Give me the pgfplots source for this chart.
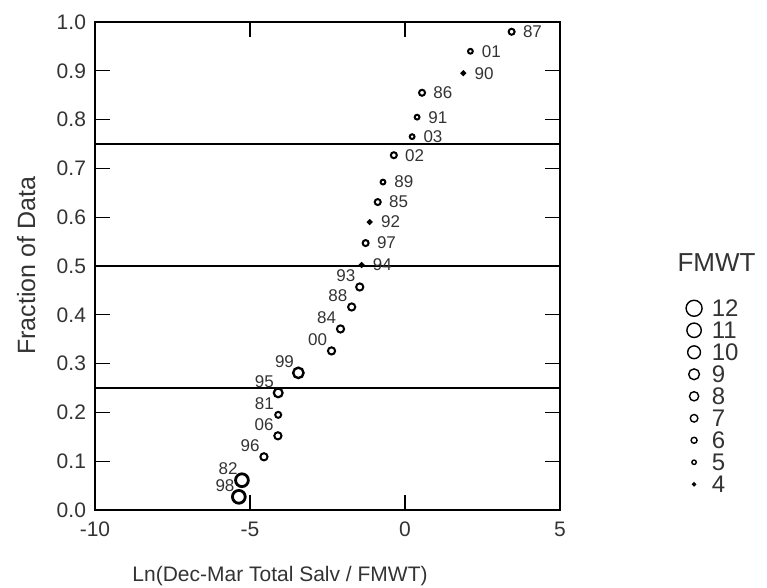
\documentclass[border=0pt]{standalone}
\usepackage{pgfplots}
\pgfplotsset{compat=1.18}
\usepackage{fontspec}
\setmainfont{Liberation Sans}
\definecolor{ink}{gray}{0.2}
\begin{document}
\begin{tikzpicture}
\begin{axis}[
  name=ax, at={(0,0)}, anchor=south west,
  scale only axis, width=232.5pt, height=244pt,
  xmin=-10, xmax=5, ymin=0, ymax=1,
  xtick={-10,-5,0,5},
  ytick={0,0.1,0.2,0.3,0.4,0.5,0.6,0.7,0.8,0.9,1.0},
  yticklabel style={/pgf/number format/fixed, /pgf/number format/fixed zerofill, /pgf/number format/precision=1, xshift=-1pt},
  /pgf/number format/assume math mode=true,
  tick align=inside, major tick length=7.5pt,
  tick style={black, line width=0.6pt},
  axis line style={black, line width=0.8pt},
  tick label style={font=\fontsize{10.5}{12}\selectfont, text=ink},
  xticklabel style={yshift=-2.5pt},
  xlabel={Ln(Dec-Mar Total Salv / FMWT)},
  ylabel={Fraction of Data},
  xlabel style={at={(axis description cs:0.398,0)}, anchor=center, yshift=-33pt, font=\fontsize{10.5}{12}\selectfont, text=ink},
  ylabel style={at={(axis description cs:-0.148,0.5)}, anchor=center, font=\fontsize{12.5}{14}\selectfont, text=ink},
  clip=false,
  legend style={at={(axis description cs:1.2645,0.432)}, anchor=north west, draw=none, fill=none,
    inner sep=0pt, font=\fontsize{12}{13}\selectfont, text=ink, row sep=2.3pt, column sep=3.5pt,
    nodes={inner sep=0pt, text height=8.7pt, text depth=0pt},
    cells={anchor=west}},
  legend cell align=left,
  legend image code/.code={\path (-5pt,0pt) (5pt,0pt); \draw[#1] plot coordinates {(0pt,0pt)};},
]
% reference lines
\addplot[forget plot, black, line width=0.7pt] coordinates {(-10,0.25) (5,0.25)};
\addplot[forget plot, black, line width=0.7pt] coordinates {(-10,0.5) (5,0.5)};
\addplot[forget plot, black, line width=0.7pt] coordinates {(-10,0.75) (5,0.75)};

% markers, grouped by FMWT size class
\addplot[forget plot, only marks, mark=o, mark size=0.9pt, line width=1pt] coordinates {(1.88,0.895) (-1.14,0.590) (-1.40,0.502)};
\addplot[forget plot, only marks, mark=o, mark size=1.2pt, line width=1pt] coordinates {(2.11,0.940) (0.39,0.805) (0.23,0.765) (-0.71,0.672)};
\addplot[forget plot, only marks, mark=o, mark size=1.5pt, line width=1pt] coordinates {(3.44,0.980) (0.55,0.855) (-0.36,0.727) (-0.88,0.631) (-1.27,0.547) (-4.09,0.195)};
\addplot[forget plot, only marks, mark=o, mark size=1.8pt, line width=1pt] coordinates {(-1.46,0.457) (-1.72,0.416) (-2.08,0.371) (-2.37,0.326) (-4.10,0.152) (-4.55,0.109)};
\addplot[forget plot, only marks, mark=o, mark size=2.2pt, line width=1.1pt] coordinates {(-4.09,0.240)};
\addplot[forget plot, only marks, mark=o, mark size=2.6pt, line width=1.2pt] coordinates {(-3.44,0.281)};
\addplot[forget plot, only marks, mark=o, mark size=3.2pt, line width=1.4pt] coordinates {(-5.26,0.061) (-5.36,0.027)};

% year labels
\addplot[forget plot, only marks, mark=none, point meta=explicit symbolic, nodes near coords,
  every node near coord/.append style={anchor=west, xshift=4.5pt, font=\fontsize{8.5}{9}\selectfont, text=ink, inner sep=1pt}]
  table[meta=lab] {
x y lab
3.44 0.980 87
2.11 0.940 01
1.88 0.895 90
0.55 0.855 86
0.39 0.805 91
0.23 0.765 03
-0.36 0.727 02
-0.71 0.672 89
-0.88 0.631 85
-1.14 0.590 92
-1.27 0.547 97
-1.40 0.502 94
};
\addplot[forget plot, only marks, mark=none, point meta=explicit symbolic, nodes near coords,
  every node near coord/.append style={anchor=south east, xshift=-1pt, yshift=1.5pt, font=\fontsize{8.5}{9}\selectfont, text=ink, inner sep=1pt}]
  table[meta=lab] {
x y lab
-1.46 0.457 93
-1.72 0.416 88
-2.08 0.371 84
-2.37 0.326 00
-3.44 0.281 99
-4.09 0.240 95
-4.09 0.195 81
-4.10 0.152 06
-4.55 0.109 96
-5.26 0.061 82
-5.36 0.027 98
};

% legend
\addlegendimage{only marks, mark=o, mark size=4.0pt, line width=0.7pt}
\addlegendentry{12}
\addlegendimage{only marks, mark=o, mark size=3.6pt, line width=0.7pt}
\addlegendentry{11}
\addlegendimage{only marks, mark=o, mark size=3.2pt, line width=0.7pt}
\addlegendentry{10}
\addlegendimage{only marks, mark=o, mark size=2.7pt, line width=0.7pt}
\addlegendentry{9}
\addlegendimage{only marks, mark=o, mark size=2.3pt, line width=0.7pt}
\addlegendentry{8}
\addlegendimage{only marks, mark=o, mark size=1.9pt, line width=0.7pt}
\addlegendentry{7}
\addlegendimage{only marks, mark=o, mark size=1.5pt, line width=0.7pt}
\addlegendentry{6}
\addlegendimage{only marks, mark=o, mark size=1.1pt, line width=0.7pt}
\addlegendentry{5}
\addlegendimage{only marks, mark=o, mark size=0.7pt, line width=0.7pt}
\addlegendentry{4}

\node[anchor=west, inner sep=0pt, font=\fontsize{13}{14}\selectfont, text=ink] at (axis description cs:1.252,0.508) {FMWT};
\end{axis}
\pgfresetboundingbox
\path (ax.south west) ++(-47.5pt,-39pt) rectangle ++(383.5pt,294pt);
\end{tikzpicture}
\end{document}
